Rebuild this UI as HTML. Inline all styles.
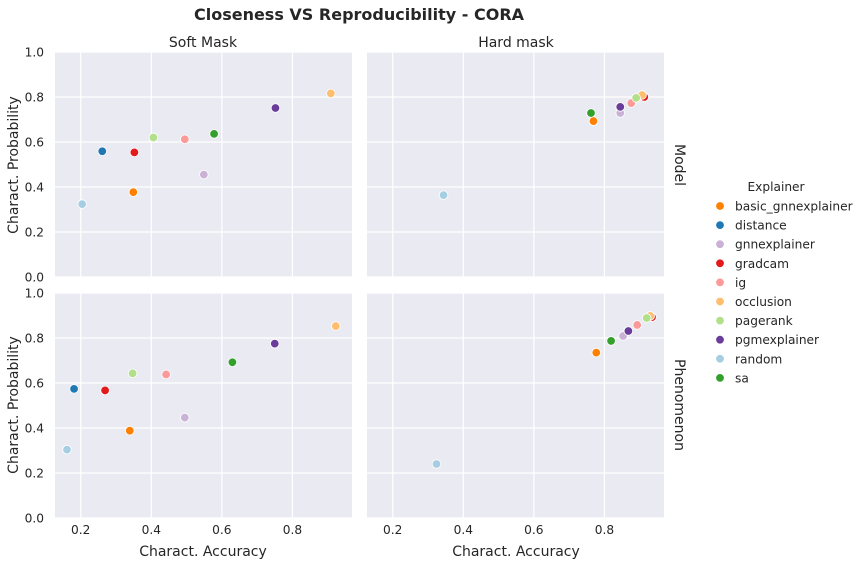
<!DOCTYPE html>
<html><head><meta charset="utf-8"><style>
body{margin:0;background:#fff;}
svg{font-family:"DejaVu Sans","Liberation Sans",sans-serif;}
</style></head><body>
<svg id="chart" width="861" height="565" xmlns="http://www.w3.org/2000/svg">
<text x="359" y="20" text-anchor="middle" font-size="16" font-weight="bold" fill="#262626">Closeness VS Reproducibility - CORA</text>
<text x="203" y="47" text-anchor="middle" font-size="14" fill="#262626">Soft Mask</text>
<text x="516" y="47" text-anchor="middle" font-size="14" fill="#262626">Hard mask</text>
<text transform="translate(675,165) rotate(90)" text-anchor="middle" font-size="14" fill="#262626">Model</text>
<text transform="translate(675,405) rotate(90)" text-anchor="middle" font-size="14" fill="#262626">Phenomenon</text>
<text transform="translate(18,165) rotate(-90)" text-anchor="middle" font-size="14" fill="#262626">Charact. Probability</text>
<text transform="translate(18,405) rotate(-90)" text-anchor="middle" font-size="14" fill="#262626">Charact. Probability</text>
<text x="203" y="556" text-anchor="middle" font-size="14" fill="#262626">Charact. Accuracy</text>
<text x="516" y="556" text-anchor="middle" font-size="14" fill="#262626">Charact. Accuracy</text>
<text x="776" y="191" text-anchor="middle" font-size="12.2" fill="#262626">Explainer</text>
<g id="panels"></g>
<g id="legend"></g>
</svg>
<script>
const explainers=["basic_gnnexplainer","distance","gnnexplainer","gradcam","ig","occlusion","pagerank","pgmexplainer","random","sa"];
const colors=["#ff7f00","#1f78b4","#cab2d6","#e31a1c","#fb9a99","#fdbf6f","#b2df8a","#6a3d9a","#a6cee3","#33a02c"];
const xTicks=[0.2,0.4,0.6,0.8];
const yTicks=[0,0.2,0.4,0.6,0.8,1.0];
// soft mask, model
const softModelX=[0.349,0.261,0.549,0.352,0.495,0.909,0.406,0.752,0.204,0.578];
const softModelY=[0.377,0.559,0.455,0.554,0.612,0.816,0.620,0.751,0.324,0.636];
// hard mask, model
const hardModelX=[0.769,0.843,0.845,0.913,0.876,0.907,0.890,0.845,0.344,0.762];
const hardModelY=[0.693,0.756,0.729,0.800,0.773,0.809,0.796,0.756,0.364,0.729];
// soft mask, phenomenon
const softPhenX=[0.339,0.181,0.495,0.269,0.442,0.923,0.347,0.750,0.161,0.630];
const softPhenY=[0.388,0.574,0.446,0.567,0.638,0.853,0.643,0.775,0.304,0.692];
// hard mask, phenomenon
const hardPhenX=[0.777,0.866,0.853,0.935,0.893,0.930,0.920,0.868,0.324,0.819];
const hardPhenY=[0.735,0.830,0.809,0.893,0.858,0.898,0.889,0.831,0.240,0.787];

const NS="http://www.w3.org/2000/svg";
const g=document.getElementById('panels');
function mk(tag,attrs,parent){const e=document.createElementNS(NS,tag);for(const k in attrs)e.setAttribute(k,attrs[k]);(parent||g).appendChild(e);return e;}
const xMin=0.127,xMax=0.969;
const panels=[
 {name:"soft-model",x0:55,y0:52,X:softModelX,Y:softModelY,left:true,bottom:false},
 {name:"hard-model",x0:367,y0:52,X:hardModelX,Y:hardModelY,left:false,bottom:false},
 {name:"soft-phenomenon",x0:55,y0:293,X:softPhenX,Y:softPhenY,left:true,bottom:true},
 {name:"hard-phenomenon",x0:367,y0:293,X:hardPhenX,Y:hardPhenY,left:false,bottom:true}];
const W=297,H=225;
panels.forEach(p=>{
 const sx=v=>p.x0+(v-xMin)/(xMax-xMin)*W;
 const sy=v=>p.y0+H-v*H;
 const bg=mk('rect',{x:p.x0,y:p.y0,width:W,height:H,fill:"#eaeaf2"});
 
 
 xTicks.forEach(t=>{
  const l=mk('line',{x1:sx(t),x2:sx(t),y1:p.y0,y2:p.y0+H,stroke:"#fff","stroke-width":1.2});
  
  
  if(p.bottom){const tx=mk('text',{x:sx(t),y:p.y0+H+16,"text-anchor":"middle","font-size":12.2,fill:"#262626"});tx.textContent=t.toFixed(1);
   
   }
 });
 yTicks.forEach(t=>{
  const l=mk('line',{x1:p.x0,x2:p.x0+W,y1:sy(t),y2:sy(t),stroke:"#fff","stroke-width":1.2});
  
  
  if(p.left){const tx=mk('text',{x:p.x0-11,y:sy(t)+4.5,"text-anchor":"end","font-size":12.2,fill:"#262626"});tx.textContent=t.toFixed(1);
   
   }
 });
 p.X.forEach((v,i)=>{
  const c=mk('circle',{cx:sx(v),cy:sy(p.Y[i]),r:4.3,fill:colors[i],stroke:"#fff","stroke-width":0.8});
  
  
 });
});
const lg=document.getElementById('legend');
explainers.forEach((n,i)=>{
 const y=206+i*19.1;
 const c=mk('circle',{cx:720,cy:y,r:4.3,fill:colors[i],stroke:"#fff","stroke-width":0.8},lg);
 
 
 const t=mk('text',{x:735,y:y+4.5,"font-size":12.2,fill:"#262626"},lg);
 t.textContent=n;
 
 
});
</script>
</body></html>
